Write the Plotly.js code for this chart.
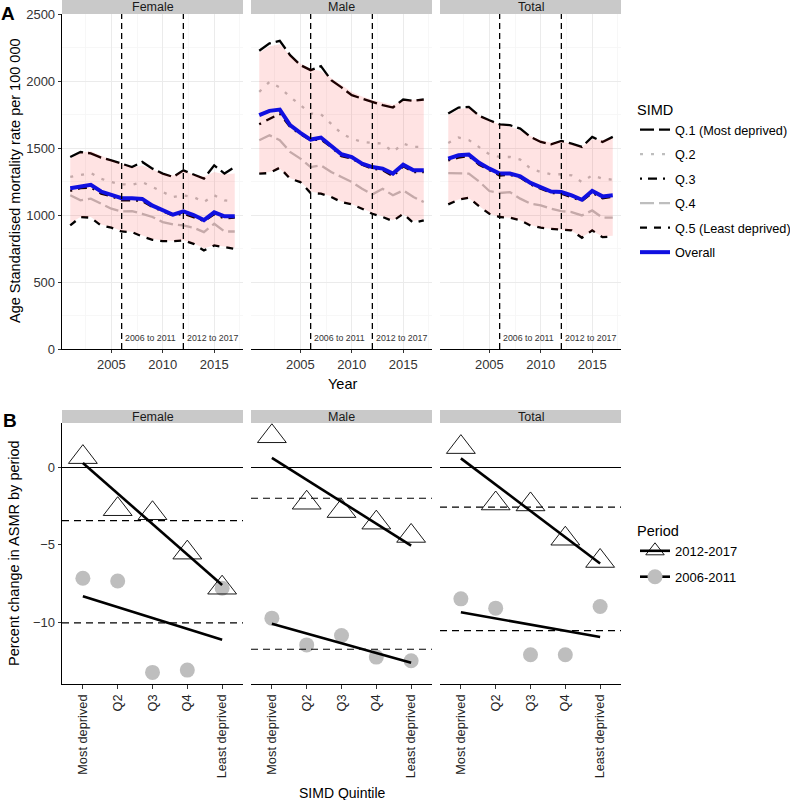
<!DOCTYPE html>
<html><head><meta charset="utf-8">
<script src="https://cdn.plot.ly/plotly-3.0.1.min.js"></script>
<style>html,body{margin:0;padding:0;background:#fff}#chart{width:790px;height:800px}</style>
</head><body><div id="chart"></div>
<script>
// ---------- Panel A data (age-standardised mortality rate per 100 000) ----------
const years = [2001,2002,2003,2004,2005,2006,2007,2008,2009,2010,2011,2012,2013,2014,2015,2016,2017];
const femaleQ1 = [1433,1470,1460,1428,1408,1383,1358,1396,1346,1309,1284,1333,1304,1271,1371,1309,1358];
const femaleQ2 = [1284,1296,1313,1271,1246,1229,1226,1246,1209,1171,1134,1147,1134,1097,1147,1109,1102];
const femaleQ3 = [1180,1200,1205,1160,1140,1110,1110,1105,1060,1030,995,1010,985,955,1005,975,980];
const femaleQ4 = [1147,1109,1122,1084,1047,1027,1029,1009,985,947,930,922,905,872,935,877,877];
const femaleQ5 = [922,985,980,922,905,877,872,840,815,805,805,810,785,735,773,760,748];
const femaleOverall = [1200,1215,1225,1175,1150,1125,1125,1120,1070,1040,1002,1027,1000,962,1020,990,990];
const femaleBandLow = [940,985,985,930,910,880,875,845,820,810,808,812,790,750,775,765,755];
const femaleBandHigh = [1420,1465,1475,1440,1410,1380,1355,1370,1340,1310,1295,1330,1300,1285,1320,1305,1310];

const maleQ1 = [2226,2281,2300,2193,2119,2081,2111,2006,1952,1894,1869,1844,1820,1802,1862,1852,1862];
const maleQ2 = [1919,1994,1952,1882,1820,1757,1752,1682,1608,1570,1545,1538,1533,1471,1533,1508,1508];
const maleQ3 = [1677,1720,1757,1657,1603,1558,1563,1508,1438,1421,1376,1346,1334,1289,1363,1321,1321];
const maleQ4 = [1558,1595,1558,1471,1421,1358,1371,1321,1284,1246,1196,1154,1196,1147,1184,1134,1097];
const maleQ5 = [1309,1313,1353,1271,1246,1164,1159,1134,1097,1079,1047,1009,985,955,1009,940,960];
const maleOverall = [1745,1777,1787,1670,1613,1563,1578,1520,1453,1433,1383,1358,1346,1309,1376,1334,1334];
const maleBandLow = [1310,1320,1345,1275,1250,1175,1160,1140,1100,1080,1050,1015,990,960,1005,955,970];
const maleBandHigh = [2210,2260,2275,2190,2130,2090,2075,2020,1970,1920,1885,1860,1840,1820,1855,1860,1865];

const totalQ1 = [1757,1802,1807,1740,1707,1677,1670,1645,1583,1545,1528,1553,1533,1508,1583,1545,1583];
const totalQ2 = [1538,1578,1560,1508,1453,1433,1433,1413,1346,1321,1304,1304,1296,1246,1296,1271,1264];
const totalQ3 = [1408,1428,1440,1375,1335,1295,1300,1280,1228,1198,1165,1160,1135,1105,1165,1125,1135];
const totalQ4 = [1313,1309,1309,1250,1179,1164,1171,1122,1084,1072,1047,1029,1022,997,1034,980,980];
const totalQ5 = [1079,1114,1129,1065,1009,985,980,960,922,905,897,890,885,830,885,835,840];
const totalOverall = [1421,1446,1451,1390,1346,1309,1309,1289,1239,1209,1175,1171,1147,1114,1179,1139,1147];
const totalBandLow = [1085,1115,1125,1065,1010,985,980,960,925,905,897,890,880,835,880,840,845];
const totalBandHigh = [1745,1790,1800,1745,1705,1675,1660,1630,1590,1560,1540,1550,1530,1510,1565,1560,1575];

const periodStarts = [2006, 2012];
const periodLabels = ['2006 to 2011', '2012 to 2017'];
const quintileNames = ['Q.1 (Most deprived)','Q.2','Q.3','Q.4','Q.5 (Least deprived)'];

// ---------- Panel B data (percent change in ASMR by period) ----------
const simdCategories = ['Most deprived','Q2','Q3','Q4','Least deprived'];
const periodNames = ['2012-2017','2006-2011'];
const female2012 = [0.68,-2.69,-2.95,-5.50,-7.77];
const female2006 = [-7.16,-7.33,-13.25,-13.10,-7.80];
const male2012 = [2.03,-2.27,-2.81,-3.56,-4.42];
const male2006 = [-9.74,-11.47,-10.86,-12.26,-12.50];
const total2012 = [1.33,-2.32,-2.38,-4.60,-6.04];
const total2006 = [-8.49,-9.09,-12.11,-12.11,-8.98];
const femaleOverallChange = [-3.43,-10.05];
const maleOverallChange = [-1.98,-11.75];
const totalOverallChange = [-2.56,-10.54];

const panelNames = ['Female','Male','Total'];

// ---------- build ----------
const FONT = 'Liberation Sans, Arial, sans-serif';
const W = 790, H = 800;
const px = v => v / W, py = v => 1 - v / H;
const xDom = [[62,243],[251,432],[440,621]];

const quintiles = [
  [femaleQ1,femaleQ2,femaleQ3,femaleQ4,femaleQ5],
  [maleQ1,maleQ2,maleQ3,maleQ4,maleQ5],
  [totalQ1,totalQ2,totalQ3,totalQ4,totalQ5]];
const overall = [femaleOverall, maleOverall, totalOverall];
const bandLow = [femaleBandLow, maleBandLow, totalBandLow];
const bandHigh = [femaleBandHigh, maleBandHigh, totalBandHigh];
const change2012 = [female2012, male2012, total2012];
const change2006 = [female2006, male2006, total2006];
const refChange = [femaleOverallChange, maleOverallChange, totalOverallChange];

const quintStyle = [
  {color:'#000000', dash:'14px,5px'},
  {color:'#bebebe', dash:'3px,8px'},
  {color:'#000000', dash:'2px,6px,9px,6px'},
  {color:'#bebebe', dash:'14px,5px'},
  {color:'#000000', dash:'7px,7px'}];

function ols(ys) {
  const n = ys.length; const xs = ys.map((_, i) => i + 1);
  const mx = xs.reduce((a,b)=>a+b,0)/n, my = ys.reduce((a,b)=>a+b,0)/n;
  let sxy = 0, sxx = 0;
  xs.forEach((x,i)=>{ sxy += (x-mx)*(ys[i]-my); sxx += (x-mx)*(x-mx); });
  const b = sxy/sxx, a = my - b*mx;
  return [a + b*1, a + b*n];
}

const traces = [];
const layout = {
  width: W, height: H, margin: {l:0,r:0,t:0,b:0, autoexpand:false},
  paper_bgcolor: '#ffffff', plot_bgcolor: 'rgba(0,0,0,0)',
  font: {family: FONT, color: '#000000', size: 12},
  showlegend: true,
  shapes: [], annotations: [],
  legend: {x: px(635), y: py(96), xanchor:'left', yanchor:'top',
    title: {text:'SIMD', font:{size:14.5, color:'#000'}},
    font: {size:12.7, color:'#000'}, tracegroupgap: 5, bgcolor:'rgba(0,0,0,0)', itemwidth: 30},
  legend2: {x: px(635), y: py(517), xanchor:'left', yanchor:'top',
    title: {text:'Period', font:{size:14.5, color:'#000'}},
    font: {size:13, color:'#000'}, tracegroupgap: 6, bgcolor:'rgba(0,0,0,0)', itemwidth: 30}
};

panelNames.forEach((name, i) => {
  const ax = i === 0 ? '' : String(i + 1);
  const bx = String(i + 4);
  const xa = 'x' + ax, ya = 'y' + ax, xb = 'x' + bx, yb = 'y' + bx;

  // ---- Panel A ----
  quintiles[i].forEach((vals, q) => {
    traces.push({type:'scatter', mode:'lines', x: years, y: vals, xaxis: xa, yaxis: ya,
      name: quintileNames[q], legend: 'legend', legendgroup: 'q' + q, showlegend: i === 0,
      line: {color: quintStyle[q].color, dash: quintStyle[q].dash, width: 2.3}, hoverinfo:'skip'});
  });
  traces.push({type:'scatter', mode:'lines', x: years, y: bandLow[i], xaxis: xa, yaxis: ya,
    line:{width:0, color:'rgba(0,0,0,0)'}, showlegend:false, hoverinfo:'skip'});
  traces.push({type:'scatter', mode:'lines', x: years, y: bandHigh[i], xaxis: xa, yaxis: ya,
    fill:'tonexty', fillcolor:'rgba(255,0,0,0.11)',
    line:{width:0, color:'rgba(0,0,0,0)'}, showlegend:false, hoverinfo:'skip'});
  traces.push({type:'scatter', mode:'lines', x: years, y: overall[i], xaxis: xa, yaxis: ya,
    name: 'Overall', legend: 'legend', legendgroup: 'ov', showlegend: i === 0,
    line:{color:'#1010e0', width:4}, hoverinfo:'skip'});

  layout['xaxis' + ax] = {domain:[px(xDom[i][0]), px(xDom[i][1])], anchor: ya,
    range:[2000.2, 2017.8], tickvals:[2005,2010,2015], ticks:'outside', ticklen:3,
    tickcolor:'#333', tickfont:{size:13, color:'#333'}, showline:true, linecolor:'#000', linewidth:1.3,
    showgrid:true, gridcolor:'#ebebeb', gridwidth:1, zeroline:false,
    minor:{dtick:2.5, tick0:2000, showgrid:true, gridcolor:'#f5f5f5', gridwidth:0.8, ticks:''}};
  layout['yaxis' + ax] = {domain:[py(349), py(14)], anchor: xa,
    range:[0, 2500], dtick:500, ticks: i === 0 ? 'outside' : '', ticklen:3, tickcolor:'#333',
    showticklabels: i === 0, tickfont:{size:13, color:'#333'},
    showline: i === 0, linecolor:'#000', linewidth:1.3, zeroline:false,
    showgrid:true, gridcolor:'#ebebeb', gridwidth:1,
    minor:{dtick:250, tick0:0, showgrid:true, gridcolor:'#f5f5f5', gridwidth:0.8, ticks:''}};

  periodStarts.forEach((yr, k) => {
    layout.shapes.push({type:'line', xref: xa, yref: ya + ' domain', x0: yr, x1: yr, y0: 0, y1: 1,
      line:{color:'#000', width:1.3, dash:'6px,4px'}, layer:'above'});
    layout.annotations.push({x: yr, y: 85, xref: xa, yref: ya, text: periodLabels[k],
      showarrow:false, xanchor:'left', yanchor:'middle', xshift:1.5,
      font:{size:8.8, color:'#333'}});
  });

  // strip A
  layout.shapes.push({type:'rect', xref:'paper', yref:'paper', x0:px(xDom[i][0]), x1:px(xDom[i][1]),
    y0:py(14), y1:py(0), fillcolor:'#c9c9c9', line:{width:0}, layer:'below'});
  layout.annotations.push({x:px((xDom[i][0]+xDom[i][1])/2), y:py(7), xref:'paper', yref:'paper',
    text:name, showarrow:false, font:{size:12.5, color:'#1a1a1a'}, xanchor:'center', yanchor:'middle'});

  // ---- Panel B ----
  traces.push({type:'scatter', mode:'markers', x: simdCategories, y: change2006[i], xaxis: xb, yaxis: yb,
    marker:{symbol:'circle', size:15, color:'#bebebe', line:{width:0}}, showlegend:false, hoverinfo:'skip'});
  traces.push({type:'scatter', mode:'markers', x: simdCategories, y: change2012[i], xaxis: xb, yaxis: yb,
    marker:{symbol:'triangle-up-open', size:25, color:'#000', line:{width:0.9, color:'#000'}},
    showlegend:false, hoverinfo:'skip'});
  const fit12 = ols(change2012[i]), fit06 = ols(change2006[i]);
  const ends = [simdCategories[0], simdCategories[simdCategories.length - 1]];
  traces.push({type:'scatter', mode:'lines', x: ends, y: fit12, xaxis: xb, yaxis: yb,
    line:{color:'#000', width:2.6}, showlegend:false, hoverinfo:'skip'});
  traces.push({type:'scatter', mode:'lines', x: ends, y: fit06, xaxis: xb, yaxis: yb,
    line:{color:'#000', width:2.6}, showlegend:false, hoverinfo:'skip'});

  refChange[i].forEach(v => {
    layout.shapes.push({type:'line', xref: xb + ' domain', yref: yb, x0:0, x1:1, y0:v, y1:v,
      line:{color:'#000', width:1.2, dash:'7px,5px'}, layer:'above'});
  });

  layout['xaxis' + bx] = {domain:[px(xDom[i][0]), px(xDom[i][1])], anchor: yb, type:'category',
    categoryorder:'array', categoryarray: simdCategories, range:[-0.6, 4.6],
    ticks:'outside', ticklen:4, tickcolor:'#333', tickangle:-90,
    tickfont:{size:12.8, color:'#222'}, showline:true, linecolor:'#000', linewidth:1.3,
    showgrid:false, zeroline:false};
  layout['yaxis' + bx] = {domain:[py(684), py(423)], anchor: xb, range:[-14.0, 2.89],
    tickvals:[0,-5,-10], ticks: i === 0 ? 'outside' : '', ticklen:3, tickcolor:'#333',
    showticklabels: i === 0, tickfont:{size:13, color:'#333'},
    showline: i === 0, linecolor:'#000', linewidth:1.3, showgrid:false,
    zeroline:true, zerolinecolor:'#000', zerolinewidth:1.3};

  layout.shapes.push({type:'rect', xref:'paper', yref:'paper', x0:px(xDom[i][0]), x1:px(xDom[i][1]),
    y0:py(423), y1:py(410), fillcolor:'#c9c9c9', line:{width:0}, layer:'below'});
  layout.annotations.push({x:px((xDom[i][0]+xDom[i][1])/2), y:py(416.5), xref:'paper', yref:'paper',
    text:name, showarrow:false, font:{size:12.5, color:'#1a1a1a'}, xanchor:'center', yanchor:'middle'});
});

// legend-only entries for period legend
traces.push({type:'scatter', mode:'lines+markers', x:[null], y:[null], xaxis:'x4', yaxis:'y4',
  name: periodNames[0], legend:'legend2', legendgroup:'p12',
  marker:{symbol:'triangle-up-open', size:18, color:'#000', line:{width:0.9}}, line:{color:'#000', width:2.6}});
traces.push({type:'scatter', mode:'lines+markers', x:[null], y:[null], xaxis:'x4', yaxis:'y4',
  name: periodNames[1], legend:'legend2', legendgroup:'p06',
  marker:{symbol:'circle', size:15, color:'#bebebe'}, line:{color:'#000', width:2.6}});

// titles & panel labels
layout.annotations.push(
  {x:px(8), y:py(14), xref:'paper', yref:'paper', text:'<b>A</b>', showarrow:false,
   font:{size:19, color:'#000'}, xanchor:'center', yanchor:'middle'},
  {x:px(10), y:py(420), xref:'paper', yref:'paper', text:'<b>B</b>', showarrow:false,
   font:{size:19, color:'#000'}, xanchor:'center', yanchor:'middle'},
  {x:px(15), y:py(181), xref:'paper', yref:'paper', text:'Age Standardised mortality rate per 100 000',
   showarrow:false, textangle:-90, font:{size:14.5, color:'#000'}, xanchor:'center', yanchor:'middle'},
  {x:px(342), y:py(384), xref:'paper', yref:'paper', text:'Year', showarrow:false,
   font:{size:14.5, color:'#000'}, xanchor:'center', yanchor:'middle'},
  {x:px(14), y:py(553), xref:'paper', yref:'paper', text:'Percent change in ASMR by period',
   showarrow:false, textangle:-90, font:{size:14.5, color:'#000'}, xanchor:'center', yanchor:'middle'},
  {x:px(342), y:py(793), xref:'paper', yref:'paper', text:'SIMD Quintile', showarrow:false,
   font:{size:14, color:'#000'}, xanchor:'center', yanchor:'middle'}
);

Plotly.newPlot('chart', traces, layout, {displayModeBar:false, staticPlot:true});
</script></body></html>
